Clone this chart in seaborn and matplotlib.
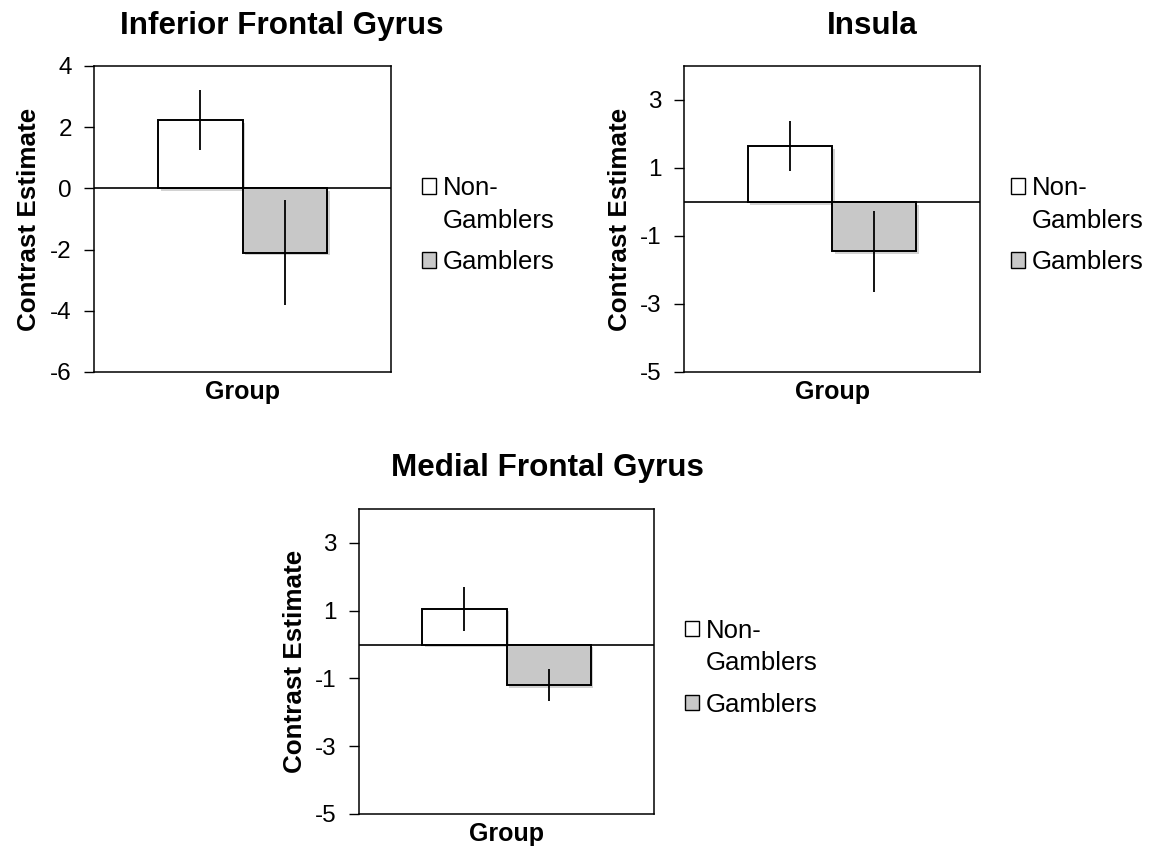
import matplotlib
matplotlib.use("Agg")
import matplotlib.pyplot as plt
import matplotlib.patheffects as pe
from matplotlib.patches import Patch, Rectangle
from matplotlib.legend_handler import HandlerPatch
import seaborn as sns
import pandas as pd

# ---- data ----
groups = ["Non-Gamblers", "Gamblers"]
legend_labels = ["Non-\nGamblers", "Gamblers"]
regions = ["Inferior Frontal Gyrus", "Insula", "Medial Frontal Gyrus"]
ifg_means = [2.24, -2.10]
ifg_err = [0.98, 1.72]
ins_means = [1.64, -1.45]
ins_err = [0.74, 1.19]
mfg_means = [1.06, -1.20]
mfg_err = [0.65, 0.48]
ifg_ticks = [-6, -4, -2, 0, 2, 4]
ins_ticks = [-5, -3, -1, 1, 3]
mfg_ticks = [-5, -3, -1, 1, 3]
ylims = [(-6, 4), (-5, 4), (-5, 4)]
x_label = "Group"
y_label = "Contrast Estimate"

colors = ["white", "#c8c8c8"]

sns.set_style("white")
plt.rcParams["font.family"] = ["Liberation Sans", "DejaVu Sans"]
plt.rcParams["text.color"] = "black"
plt.rcParams["axes.labelcolor"] = "black"
plt.rcParams["xtick.color"] = "black"
plt.rcParams["ytick.color"] = "black"


class TopLineHandler(HandlerPatch):
    def __init__(self, lines_up, **kw):
        super().__init__(**kw)
        self.lines_up = lines_up

    def create_artists(self, legend, orig_handle, xdescent, ydescent,
                       width, height, fontsize, trans):
        p = Rectangle((-xdescent, -ydescent + self.lines_up * fontsize), width, height)
        self.update_prop(p, orig_handle, legend)
        p.set_transform(trans)
        return [p]


fig = plt.figure(figsize=(11.49, 8.49), dpi=100)
W, H = 1149, 849
boxes = [(94, 66, 391, 372), (684, 66, 980, 372), (359, 509, 654, 814)]
title_pos = [(282, 34), (872, 34), (547, 476)]
datasets = [(ifg_means, ifg_err, ifg_ticks), (ins_means, ins_err, ins_ticks),
            (mfg_means, mfg_err, mfg_ticks)]

for i, ((l, t, r, b), (means, errs, ticks)) in enumerate(zip(boxes, datasets)):
    ax = fig.add_axes([l / W, 1 - b / H, (r - l) / W, (b - t) / H])
    df = pd.DataFrame({"x": [x_label] * len(groups), "Status": groups, "value": means})
    sns.barplot(data=df, x="x", y="value", hue="Status", hue_order=groups,
                palette=colors, edgecolor="black", linewidth=1.4, width=0.57,
                errorbar=None, legend=False, ax=ax, zorder=3)
    for patch in ax.patches:
        patch.set_path_effects([pe.SimplePatchShadow(offset=(2, -2), shadow_rgbFace="0.5", alpha=0.35),
                                pe.Normal()])
    for patch, m, e in zip(ax.patches, means, errs):
        cx = patch.get_x() + patch.get_width() / 2
        ax.errorbar(cx, m, yerr=e, color="black", lw=1.3, capsize=0, zorder=4)
    ax.axhline(0, color="black", lw=1.2, zorder=2)
    ax.set_xlim(-0.5, 0.5)
    ax.set_ylim(*ylims[i])
    ax.set_yticks(ticks)
    ax.set_yticklabels([str(v) for v in ticks])
    ax.tick_params(axis="y", left=True, length=7, width=1, pad=9, labelsize=17.5, color="black")
    ax.tick_params(axis="x", length=0, pad=6, labelsize=18)
    for lab in ax.get_xticklabels():
        lab.set_fontweight("bold")
    ax.set_xlabel("")
    ax.set_ylabel(y_label, fontsize=18.7, fontweight="bold")
    ax.yaxis.set_label_coords(-0.177, 0.5)
    for sp in ax.spines.values():
        sp.set_visible(True)
        sp.set_color("black")
        sp.set_linewidth(1.1)

    handles = [Patch(facecolor=c, edgecolor="black", linewidth=1) for c in colors]
    leg = ax.legend(handles, legend_labels, loc="upper left", bbox_to_anchor=(1.105, 0.64),
                    frameon=False, fontsize=18.5, borderpad=0, borderaxespad=0,
                    handlelength=0.55, handleheight=0.55, handletextpad=0.25,
                    labelspacing=0.68,
                    handler_map={handles[0]: TopLineHandler(0.73)})
    leg.texts[0].set_linespacing(1.45)

    tx, ty = title_pos[i]
    fig.text(tx / W, 1 - ty / H, regions[i], ha="center", va="baseline",
             fontsize=22.6, fontweight="bold")

fig.savefig("out.png", dpi=100)
